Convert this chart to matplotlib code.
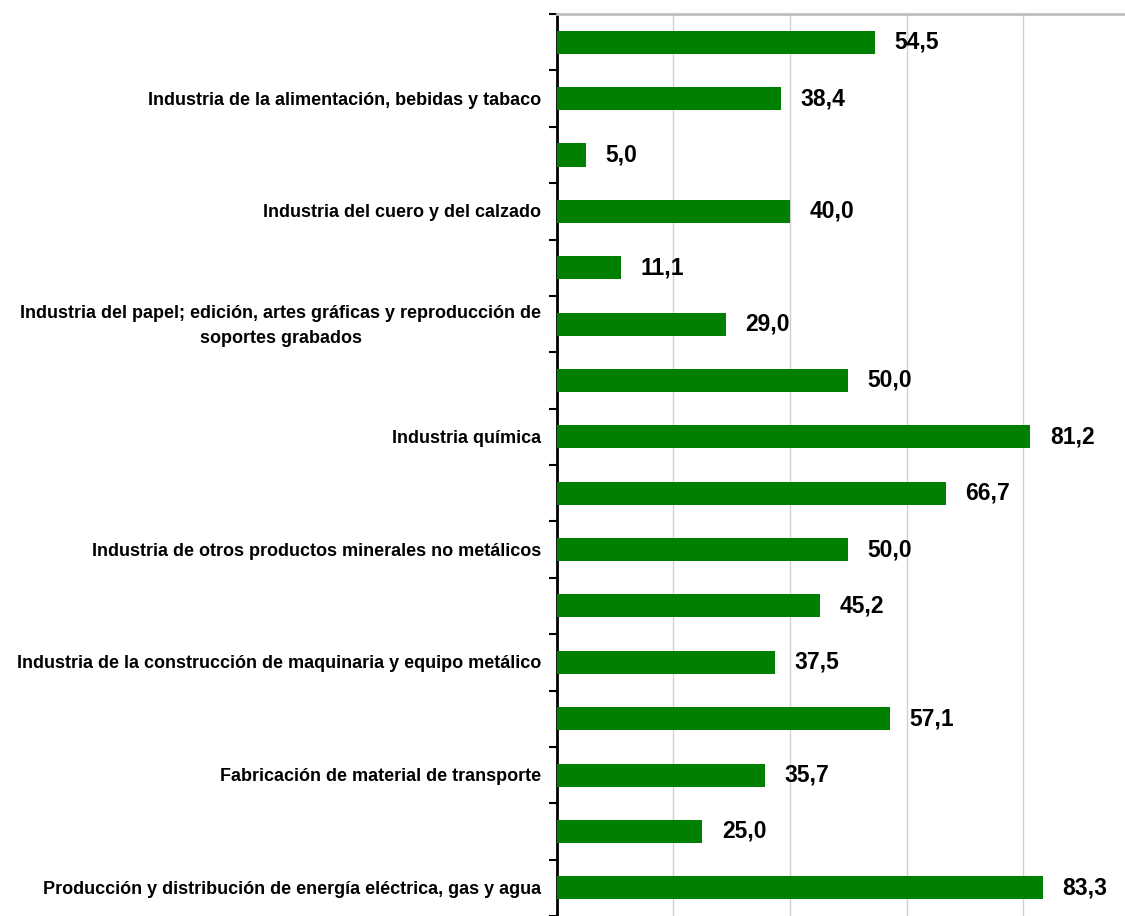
import matplotlib.pyplot as plt
import numpy as np

plt.rcParams['font.family'] = ['Liberation Sans', 'DejaVu Sans']

categories = [
    '',
    'Industria de la alimentación, bebidas y tabaco',
    '',
    'Industria del cuero y del calzado',
    '',
    'Industria del papel; edición, artes gráficas y reproducción de\nsoportes grabados',
    '',
    'Industria química',
    '',
    'Industria de otros productos minerales no metálicos',
    '',
    'Industria de la construcción de maquinaria y equipo metálico',
    '',
    'Fabricación de material de transporte',
    '',
    'Producción y distribución de energía eléctrica, gas y agua',
]
values = [54.5, 38.4, 5.0, 40.0, 11.1, 29.0, 50.0, 81.2,
          66.7, 50.0, 45.2, 37.5, 57.1, 35.7, 25.0, 83.3]

fig = plt.figure(figsize=(11.25, 9.16), dpi=100)
ax = fig.add_axes([0.4947, 0.0, 0.5053, 0.9847])

n = len(values)
pos = np.arange(n)
ax.barh(pos, values, height=0.41, color='#008000', zorder=3)

ax.set_ylim(n - 0.5, -0.5)
ax.set_xlim(0, 97.4)

# tick marks sit on the category boundaries
ax.set_yticks(np.arange(-0.5, n, 1.0))
ax.set_yticklabels([])
ax.tick_params(axis='y', which='major', direction='out', length=6, width=1.5)

# category names at the bar centres
trans = ax.get_yaxis_transform()
for p, name in zip(pos, categories):
    if name:
        ax.annotate(name, (0, p), xycoords=trans, xytext=(-11, -1.2),
                    textcoords='offset points', ha='right', va='center',
                    multialignment='center', linespacing=1.6,
                    fontsize=13, fontweight='bold')

ax.set_xticks([20, 40, 60, 80])
ax.tick_params(axis='x', length=0, labelbottom=False)
ax.grid(axis='x', color='#d0d0d0', linewidth=1, zorder=0)

for s in ['right', 'bottom']:
    ax.spines[s].set_visible(False)
ax.spines['left'].set_linewidth(2)
ax.spines['top'].set_color('#c0c0c0')
ax.spines['top'].set_linewidth(2)

for p, v in zip(pos, values):
    ax.annotate(f'{v:.1f}'.replace('.', ','), (v, p), xytext=(14, 0),
                textcoords='offset points', va='center', ha='left',
                fontsize=16.5, fontweight='bold', zorder=4)

fig.savefig('out.png', dpi=100)
